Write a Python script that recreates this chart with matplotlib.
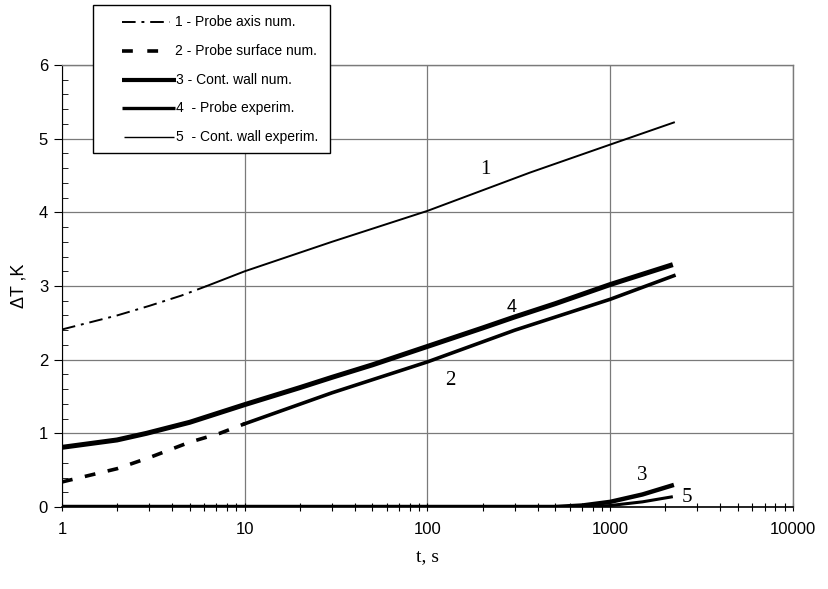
import matplotlib
matplotlib.use("Agg")
import matplotlib.pyplot as plt
from matplotlib.patches import Rectangle
from matplotlib.ticker import LogLocator, MultipleLocator, NullFormatter

# ---- data ----
t1 = [1, 2, 3, 4.5, 6.2, 10, 30, 100, 364, 1000, 2230]
y1 = [2.41, 2.60, 2.73, 2.87, 3.00, 3.20, 3.60, 4.02, 4.54, 4.92, 5.22]
split1 = 4  # dash-dot up to this index, then solid

t2 = [1, 2, 3, 5, 7.3, 10, 30, 100, 300, 1000, 2230]
y2 = [0.34, 0.52, 0.67, 0.88, 1.00, 1.13, 1.55, 1.97, 2.40, 2.82, 3.14]
split2 = 5  # dashed up to this index, then solid

t3 = [1, 10, 100, 500, 700, 1000, 1500, 2230]
y3 = [0.0, 0.0, 0.0, 0.0, 0.02, 0.07, 0.17, 0.30]

t4 = [1, 2, 2.9, 5, 10, 20, 30, 50, 100, 200, 300, 500, 1000, 2200]
y4 = [0.81, 0.91, 1.00, 1.15, 1.39, 1.62, 1.76, 1.93, 2.18, 2.43, 2.58, 2.76, 3.02, 3.29]

t5 = [1, 10, 100, 700, 1000, 1500, 2200]
y5 = [0.0, 0.0, 0.0, 0.0, 0.02, 0.07, 0.14]

legend_labels = ["1 - Probe axis num.", "2 - Probe surface num.", "3 - Cont. wall num.",
                 "4  - Probe experim.", "5  - Cont. wall experim."]
x_ticks = [1, 10, 100, 1000, 10000]
x_ticklabels = ["1", "10", "100", "1000", "10000"]
y_ticks = [0, 1, 2, 3, 4, 5, 6]

W, H = 829, 589
fig = plt.figure(figsize=(W / 100, H / 100), dpi=100)
ax = fig.add_axes([62 / W, 1 - 507 / H, (793 - 62) / W, (507 - 65) / H])

ax.set_xscale("log")
ax.set_xlim(1, 10000)
ax.set_ylim(0, 6)

grid_c = "#7a7a7a"
ax.set_xticks(x_ticks)
ax.set_xticklabels(x_ticklabels)
ax.set_yticks(y_ticks)
ax.xaxis.set_minor_locator(LogLocator(base=10, subs=range(2, 10)))
ax.xaxis.set_minor_formatter(NullFormatter())
ax.yaxis.set_minor_locator(MultipleLocator(0.2))
ax.grid(True, which="major", color=grid_c, linewidth=0.9)
ax.tick_params(axis="x", which="both", direction="inout", length=6, width=0.8,
               labelsize=12, pad=8)
ax.tick_params(axis="x", which="minor", length=6)
ax.tick_params(axis="y", which="major", direction="out", length=6, width=0.8,
               labelsize=12, pad=4)
ax.tick_params(axis="y", which="minor", direction="in", length=4, width=0.6)
for lab in ax.get_xticklabels() + ax.get_yticklabels():
    lab.set_family(["Liberation Sans", "DejaVu Sans"])
    lab.set_fontweight("medium")

for s in ["top", "right"]:
    ax.spines[s].set_color(grid_c)
    ax.spines[s].set_linewidth(1.0)
ax.spines["left"].set_color("black")
ax.spines["bottom"].set_color("black")
ax.spines["bottom"].set_linewidth(1.2)

# curves
ax.plot(t1[:split1 + 1], y1[:split1 + 1], color="black", lw=1.4,
        dashes=(7, 3, 1.5, 3))
ax.plot(t1[split1:], y1[split1:], color="black", lw=1.4)
ax.plot(t2[:split2 + 1], y2[:split2 + 1], color="black", lw=2.6, dashes=(3, 3.5))
ax.plot(t2[split2:], y2[split2:], color="black", lw=2.6)
ax.plot(t3, y3, color="black", lw=3.2, solid_capstyle="butt")
ax.plot(t4, y4, color="black", lw=3.6, solid_capstyle="butt")
ax.plot(t5, y5, color="black", lw=2.2, solid_capstyle="butt")

serif = ["Liberation Serif", "DejaVu Serif"]
sans = ["Liberation Sans", "DejaVu Sans"]
ax.text(195, 4.52, "1", family=serif, fontsize=15)
ax.text(125, 1.85, "2", family=serif, fontsize=15, va="top")
ax.text(1500, 0.36, "3", family=serif, fontsize=15, ha="center")
ax.text(2450, 0.07, "5", family=serif, fontsize=15)
ax.text(290, 2.65, "4", family=sans, fontsize=13, ha="center")

ax.set_xlabel("t, s", family=serif, fontsize=14, labelpad=8)
ax.set_ylabel("ΔT ,K", family=sans, fontsize=13, labelpad=8)

# legend (drawn in figure pixel coordinates)
ov = fig.add_axes([0, 0, 1, 1], zorder=10)
ov.set_xlim(0, W)
ov.set_ylim(H, 0)
ov.axis("off")
ov.patch.set_alpha(0)
ov.add_patch(Rectangle((93, 5), 237, 148, facecolor="white", edgecolor="black", lw=1.0))
rows = [22, 51, 80, 108, 137]
ov.plot([122, 170], [rows[0]] * 2, color="black", lw=1.4, dashes=(7, 3, 1.5, 3))
ov.plot([122, 170], [rows[1]] * 2, color="black", lw=2.6, dashes=(3, 4))
ov.plot([122, 176], [rows[2]] * 2, color="black", lw=3.0, solid_capstyle="butt")
ov.plot([122, 175], [rows[3]] * 2, color="black", lw=2.4, solid_capstyle="butt")
ov.plot([124, 174], [rows[4]] * 2, color="black", lw=1.0, solid_capstyle="butt")
text_x = [175, 175, 176, 176, 176]
for r, x, lab in zip(rows, text_x, legend_labels):
    ov.text(x, r, lab, family=sans, fontsize=10, va="center", ha="left")

fig.savefig("out.png", dpi=100)
